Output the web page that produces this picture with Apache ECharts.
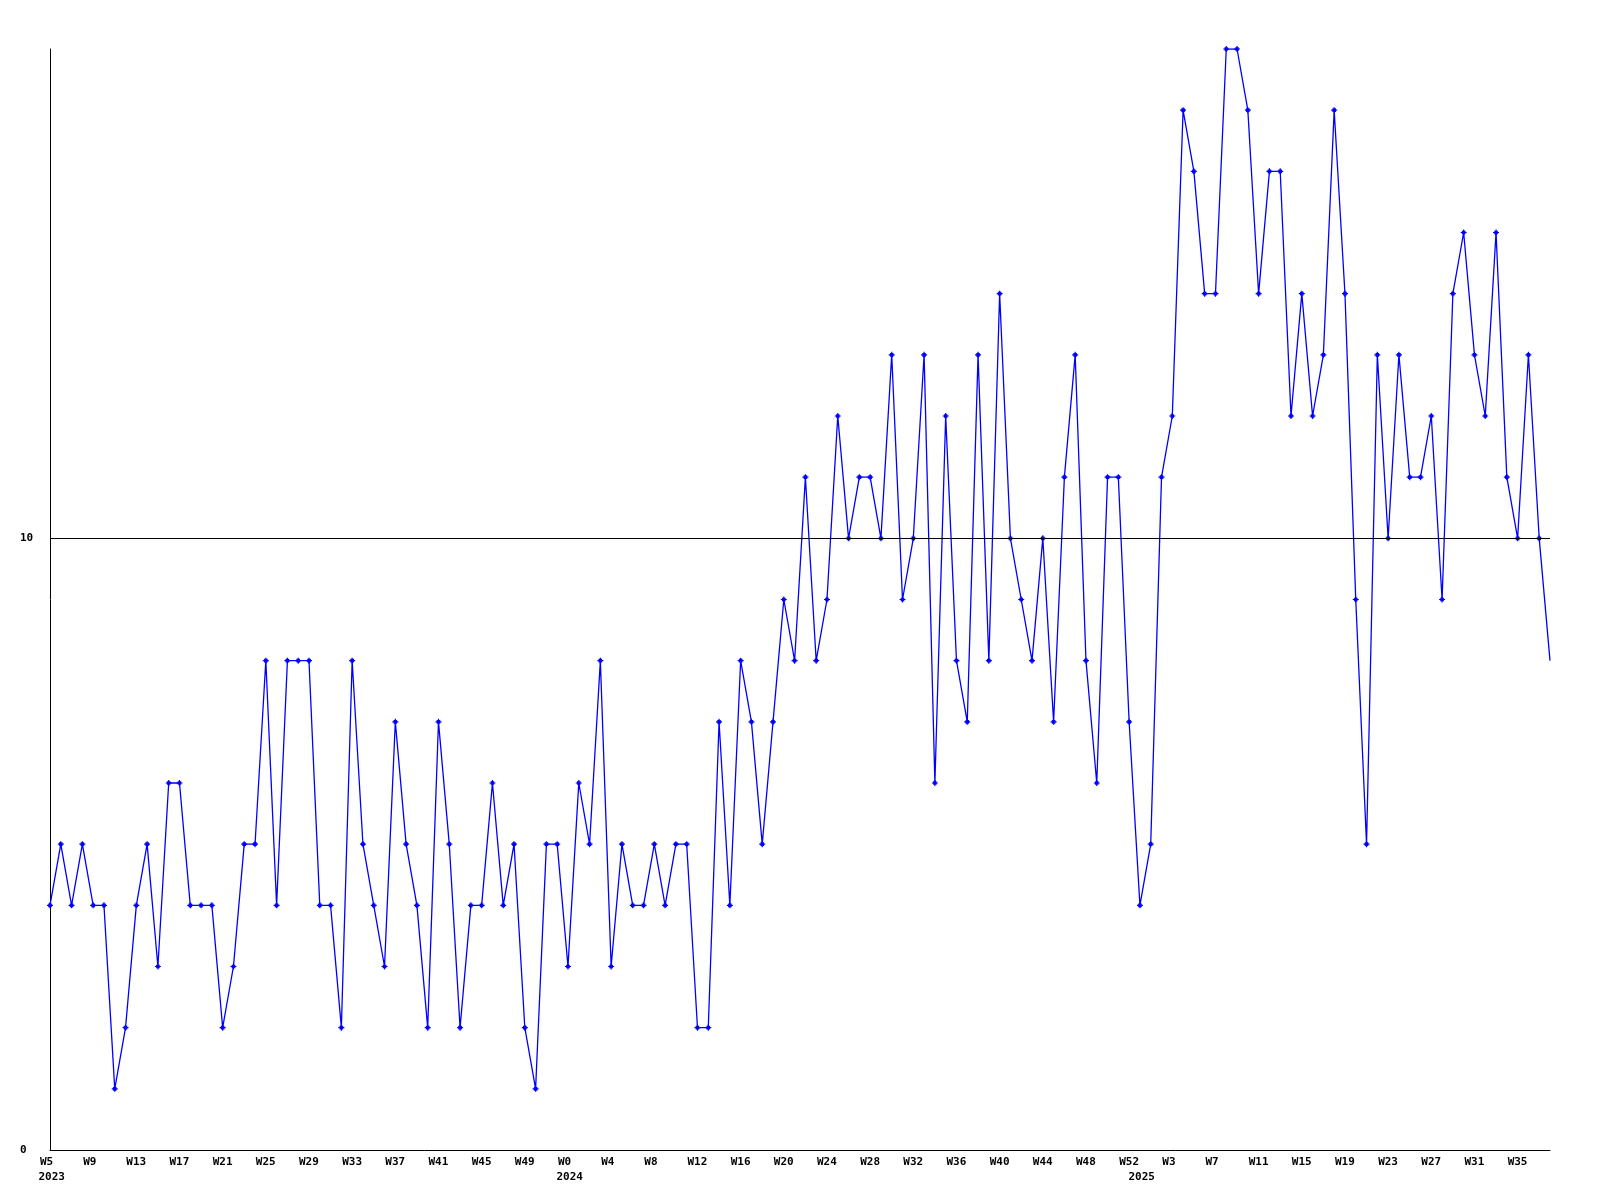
<!DOCTYPE html>
<html>
<head>
<meta charset="utf-8">
<script src="https://cdn.jsdelivr.net/npm/echarts@6/dist/echarts.min.js"></script>
<style>
html,body{margin:0;padding:0;background:#fff;}
#chart{width:1600px;height:1200px;}
</style>
</head>
<body>
<div id="chart"></div>
<script>
const weeks = [
'2023 W5','2023 W6','2023 W7','2023 W8','2023 W9','2023 W10','2023 W11','2023 W12','2023 W13','2023 W14',
'2023 W15','2023 W16','2023 W17','2023 W18','2023 W19','2023 W20','2023 W21','2023 W22','2023 W23','2023 W24',
'2023 W25','2023 W26','2023 W27','2023 W28','2023 W29','2023 W30','2023 W31','2023 W32','2023 W33','2023 W34',
'2023 W35','2023 W36','2023 W37','2023 W38','2023 W39','2023 W40','2023 W41','2023 W42','2023 W43','2023 W44',
'2023 W45','2023 W46','2023 W47','2023 W48','2023 W49','2023 W50','2023 W51','2023 W52',
'2024 W0','2024 W1','2024 W2','2024 W3','2024 W4','2024 W5','2024 W6','2024 W7','2024 W8','2024 W9',
'2024 W10','2024 W11','2024 W12','2024 W13','2024 W14','2024 W15','2024 W16','2024 W17','2024 W18','2024 W19',
'2024 W20','2024 W21','2024 W22','2024 W23','2024 W24','2024 W25','2024 W26','2024 W27','2024 W28','2024 W29',
'2024 W30','2024 W31','2024 W32','2024 W33','2024 W34','2024 W35','2024 W36','2024 W37','2024 W38','2024 W39',
'2024 W40','2024 W41','2024 W42','2024 W43','2024 W44','2024 W45','2024 W46','2024 W47','2024 W48','2024 W49',
'2024 W50','2024 W51','2024 W52',
'2025 W0','2025 W1','2025 W2','2025 W3','2025 W4','2025 W5','2025 W6','2025 W7','2025 W8','2025 W9',
'2025 W10','2025 W11','2025 W12','2025 W13','2025 W14','2025 W15','2025 W16','2025 W17','2025 W18','2025 W19',
'2025 W20','2025 W21','2025 W22','2025 W23','2025 W24','2025 W25','2025 W26','2025 W27','2025 W28','2025 W29',
'2025 W30','2025 W31','2025 W32','2025 W33','2025 W34','2025 W35','2025 W36','2025 W37','2025 W38'
];

const counts = [
4,5,4,5,4,4,1,2,4,5,
3,6,6,4,4,4,2,3,5,5,
8,4,8,8,8,4,4,2,8,5,
4,3,7,5,4,2,7,5,2,4,
4,6,4,5,2,1,5,5,3,6,
5,8,3,5,4,4,5,4,5,5,
2,2,7,4,8,7,5,7,9,8,
11,8,9,12,10,11,11,10,13,9,
10,13,6,12,8,7,13,8,14,10,
9,8,10,7,11,13,8,6,11,11,
7,4,5,11,12,17,16,14,14,18,
18,17,14,16,16,12,14,12,13,17,
14,9,5,13,10,13,11,11,12,9,
14,15,13,12,15,11,10,13,10,8
];

const yTicks = [0, 10];
const refLine = 10;

const FONT = '"DejaVu Sans Mono", "Liberation Mono", monospace';
const yearOf = v => v.split(' ')[0];
const weekOf = v => v.split(' ')[1];

const seriesData = counts.map((v, i) => i === counts.length - 1 ? {value: v, symbol: 'none'} : v);

const chart = echarts.init(document.getElementById('chart'), null, {renderer: 'canvas'});
chart.setOption({
  animation: false,
  backgroundColor: '#ffffff',
  grid: {left: 50, right: 50, top: 49, bottom: 50, containLabel: false},
  xAxis: [{
    type: 'category',
    data: weeks,
    boundaryGap: false,
    axisLine: {show: true, lineStyle: {color: '#000', width: 1}},
    axisTick: {show: false},
    splitLine: {show: false},
    axisLabel: {
      interval: 3,
      margin: 5,
      color: '#000',
      formatter: function (value) { return '{a|' + weekOf(value) + '}'; },
      rich: {
        a: {width: 20, align: 'left', fontFamily: FONT, fontSize: 11, fontWeight: 'bold', lineHeight: 15, color: '#000'}
      }
    }
  }, {
    type: 'category',
    data: weeks,
    boundaryGap: false,
    position: 'bottom',
    axisLine: {show: false},
    axisTick: {show: false},
    splitLine: {show: false},
    axisLabel: {
      interval: function (index, value) {
        return index === 0 || yearOf(weeks[index - 1]) !== yearOf(value);
      },
      margin: 20,
      color: '#000',
      formatter: function (value) { return '{y|' + yearOf(value) + '}'; },
      rich: {
        y: {width: 23, align: 'left', fontFamily: FONT, fontSize: 11, fontWeight: 'bold', lineHeight: 15, color: '#000'}
      }
    }
  }],
  yAxis: {
    type: 'value',
    min: yTicks[0],
    max: 18,
    interval: yTicks[1] - yTicks[0],
    axisLine: {show: true, lineStyle: {color: '#000', width: 1}},
    axisTick: {show: false},
    splitLine: {show: false},
    axisLabel: {
      showMaxLabel: false,
      align: 'left',
      margin: 30,
      color: '#000',
      fontFamily: FONT,
      fontSize: 11,
      fontWeight: 'bold'
    }
  },
  series: [{
    type: 'line',
    xAxisIndex: 0,
    data: seriesData,
    showAllSymbol: true,
    symbol: 'path://M2,0L3,0L3,1L4,1L4,2L5,2L5,3L4,3L4,4L3,4L3,5L2,5L2,4L1,4L1,3L0,3L0,2L1,2L1,1L2,1Z',
    symbolSize: 6,
    itemStyle: {color: '#0000ff'},
    lineStyle: {color: '#0000ff', width: 1.3},
    markLine: {
      silent: true,
      symbol: 'none',
      label: {show: false},
      lineStyle: {color: '#000', width: 1, type: 'solid'},
      data: [{yAxis: refLine}]
    }
  }]
});
</script>
</body>
</html>
